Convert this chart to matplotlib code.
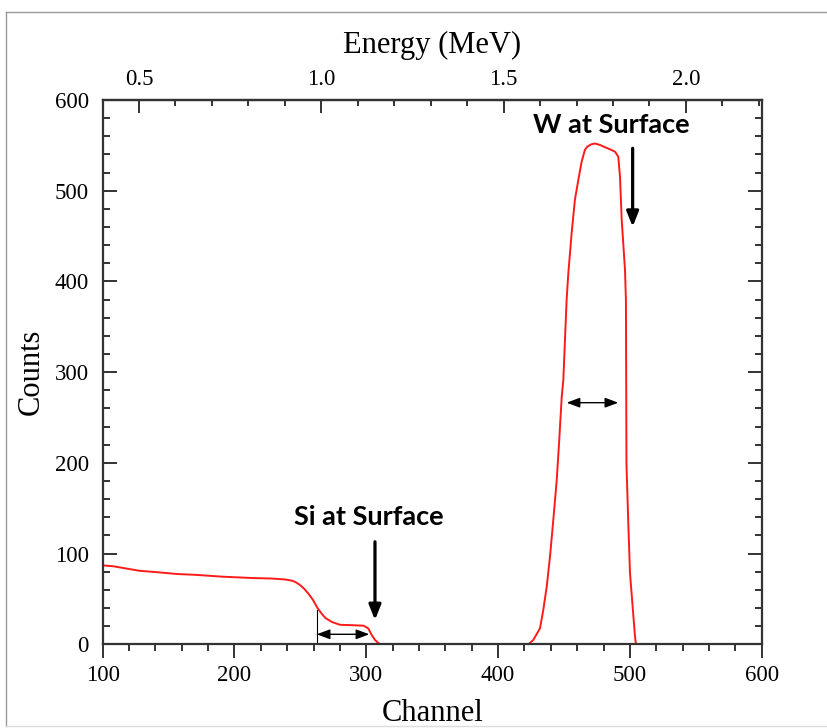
import matplotlib
matplotlib.use("Agg")
import matplotlib.pyplot as plt
from matplotlib.lines import Line2D
from matplotlib.ticker import MultipleLocator, FixedLocator, FormatStrFormatter

# RBS spectrum: counts per channel
channel = [100, 108, 118, 128, 141, 156, 171, 191, 214, 228, 238, 244, 247,
           250, 253, 256, 259.5, 263, 266, 269, 274, 280, 290, 298, 301.5,
           304, 306.5, 309, 311, 423, 426.7, 431.8, 434.3, 436.9, 439.4,
           441.9, 444.5, 446.4, 448.3, 449.5, 452, 453.3, 455.8, 458.3,
           460.9, 463.4, 465.9, 467.7, 470.5, 473.5, 477.3, 481, 484.9,
           488.7, 491.2, 492.5, 493.8, 496.3, 497.0, 497.2, 497.4, 498.8,
           500.1, 502.1, 503.9, 504.6]
counts = [87, 86, 83.5, 81, 79.5, 77.5, 76.5, 74.5, 73, 72.5, 71.5, 70, 68,
          65, 61, 56, 49, 40, 34, 29, 24.5, 21.5, 21, 20.5, 17.5,
          10.5, 5, 1.5, 0, 0, 4.7, 17.6, 37.8, 63.5, 96.6,
          137, 181, 225, 273, 291, 379.5, 409, 453, 490,
          512, 532, 545, 548.5, 551, 552, 550.4, 548, 545.6,
          543, 537.5, 515.4, 467.7, 412.6, 379.5, 291, 199.5, 133.4,
          78.3, 41.4, 8.4, 0]

# channel -> energy calibration (MeV)
E_OFFSET = 0.0392
E_SLOPE = 0.003614
energy_ticks = [0.5, 1.0, 1.5, 2.0]

# surface edge markers: label, text position, arrow x, arrow start/end
si_label, si_text = "Si at Surface", (301.7, 140.6)
si_arrow_x, si_arrow_y = 306.6, (113, 26.8)
w_label, w_text = "W at Surface", (486.2, 572.4)
w_arrow_x, w_arrow_y = 502.1, (546.7, 460.3)

# width markers (double arrows)
si_width = (262.4, 302.3, 11.0)
si_width_bar = (262.4, 37.8)
w_width = (452.0, 491.2, 266.3)

SERIF = "Liberation Serif"
SPINE = "#333333"


def ch2e(x):
    return E_OFFSET + E_SLOPE * x


def e2ch(e):
    return (e - E_OFFSET) / E_SLOPE


fig = plt.figure(figsize=(8.28, 7.28), dpi=100)
ax = fig.add_axes([0.1240, 0.1150, 0.7959, 0.7477])

ax.plot(channel, counts, color="#ff1a1a", lw=1.4, zorder=2)

ax.set_xlim(100, 600)
ax.set_ylim(0, 600)

for side in ax.spines.values():
    side.set_color(SPINE)
    side.set_linewidth(1.6)

ax.xaxis.set_major_locator(MultipleLocator(100))
ax.xaxis.set_minor_locator(MultipleLocator(20))
ax.yaxis.set_major_locator(MultipleLocator(100))
ax.yaxis.set_minor_locator(MultipleLocator(20))

ax.tick_params(axis="x", which="both", direction="out", color=SPINE,
               width=1.4, labelsize=16.5, pad=5)
ax.tick_params(axis="x", which="major", length=10)
ax.tick_params(axis="x", which="minor", length=5)
ax.tick_params(axis="y", which="both", direction="in", right=True,
               color=SPINE, width=1.4, labelsize=16.5, pad=10)
ax.tick_params(axis="y", which="major", length=10)
ax.tick_params(axis="y", which="minor", length=5)

for lbl in ax.get_xticklabels() + ax.get_yticklabels():
    lbl.set_fontfamily(SERIF)

ax.set_xlabel("Channel", fontfamily=SERIF, fontsize=22, labelpad=9)
ax.set_ylabel("Counts", fontfamily=SERIF, fontsize=22, labelpad=6)

# energy axis on top
top = ax.secondary_xaxis("top", functions=(ch2e, e2ch))
top.xaxis.set_major_locator(FixedLocator(energy_ticks))
top.xaxis.set_minor_locator(MultipleLocator(0.1))
top.xaxis.set_major_formatter(FormatStrFormatter("%.1f"))
top.tick_params(which="both", direction="in", color=SPINE, width=1.4,
                labelsize=16.5, pad=7)
top.tick_params(which="major", length=9.5)
top.tick_params(which="minor", length=4.5)
top.spines["top"].set_color(SPINE)
top.spines["top"].set_linewidth(1.6)
for lbl in top.get_xticklabels():
    lbl.set_fontfamily(SERIF)
top.set_xlabel("Energy (MeV)", fontfamily=SERIF, fontsize=22, labelpad=12)

# surface edge labels and arrows
bold_arrow = dict(arrowstyle="-|>,head_length=0.45,head_width=0.18",
                  lw=2.3, color="black", mutation_scale=20,
                  shrinkA=0, shrinkB=0)
for label, txt, ax_x, (y0, y1) in [(si_label, si_text, si_arrow_x, si_arrow_y),
                                   (w_label, w_text, w_arrow_x, w_arrow_y)]:
    ax.text(*txt, label, ha="center", va="center", fontfamily="Lato",
            fontweight="bold", fontsize=19.5)
    ax.annotate("", xy=(ax_x, y1), xytext=(ax_x, y0), arrowprops=bold_arrow)

thin_arrow = dict(arrowstyle="<|-|>,head_length=0.8,head_width=0.3",
                  lw=1.0, color="black", mutation_scale=10,
                  shrinkA=0, shrinkB=0)
for x0, x1, y in (si_width, w_width):
    ax.annotate("", xy=(x1, y), xytext=(x0, y), arrowprops=thin_arrow)
ax.plot([si_width_bar[0]] * 2, [0, si_width_bar[1]], color="black", lw=0.8)

# thin frame around the figure
frame_kw = dict(color="#9a9a9a", lw=1.0, transform=fig.transFigure)
fig.add_artist(Line2D([6 / 828, 6 / 828], [2 / 728, 716 / 728], **frame_kw))
fig.add_artist(Line2D([6 / 828, 1.0], [716 / 728, 716 / 728], **frame_kw))
fig.add_artist(Line2D([6 / 828, 1.0], [2 / 728, 2 / 728],
                      color="#dddddd", lw=1.0, transform=fig.transFigure))

fig.savefig("out.png", dpi=100)
